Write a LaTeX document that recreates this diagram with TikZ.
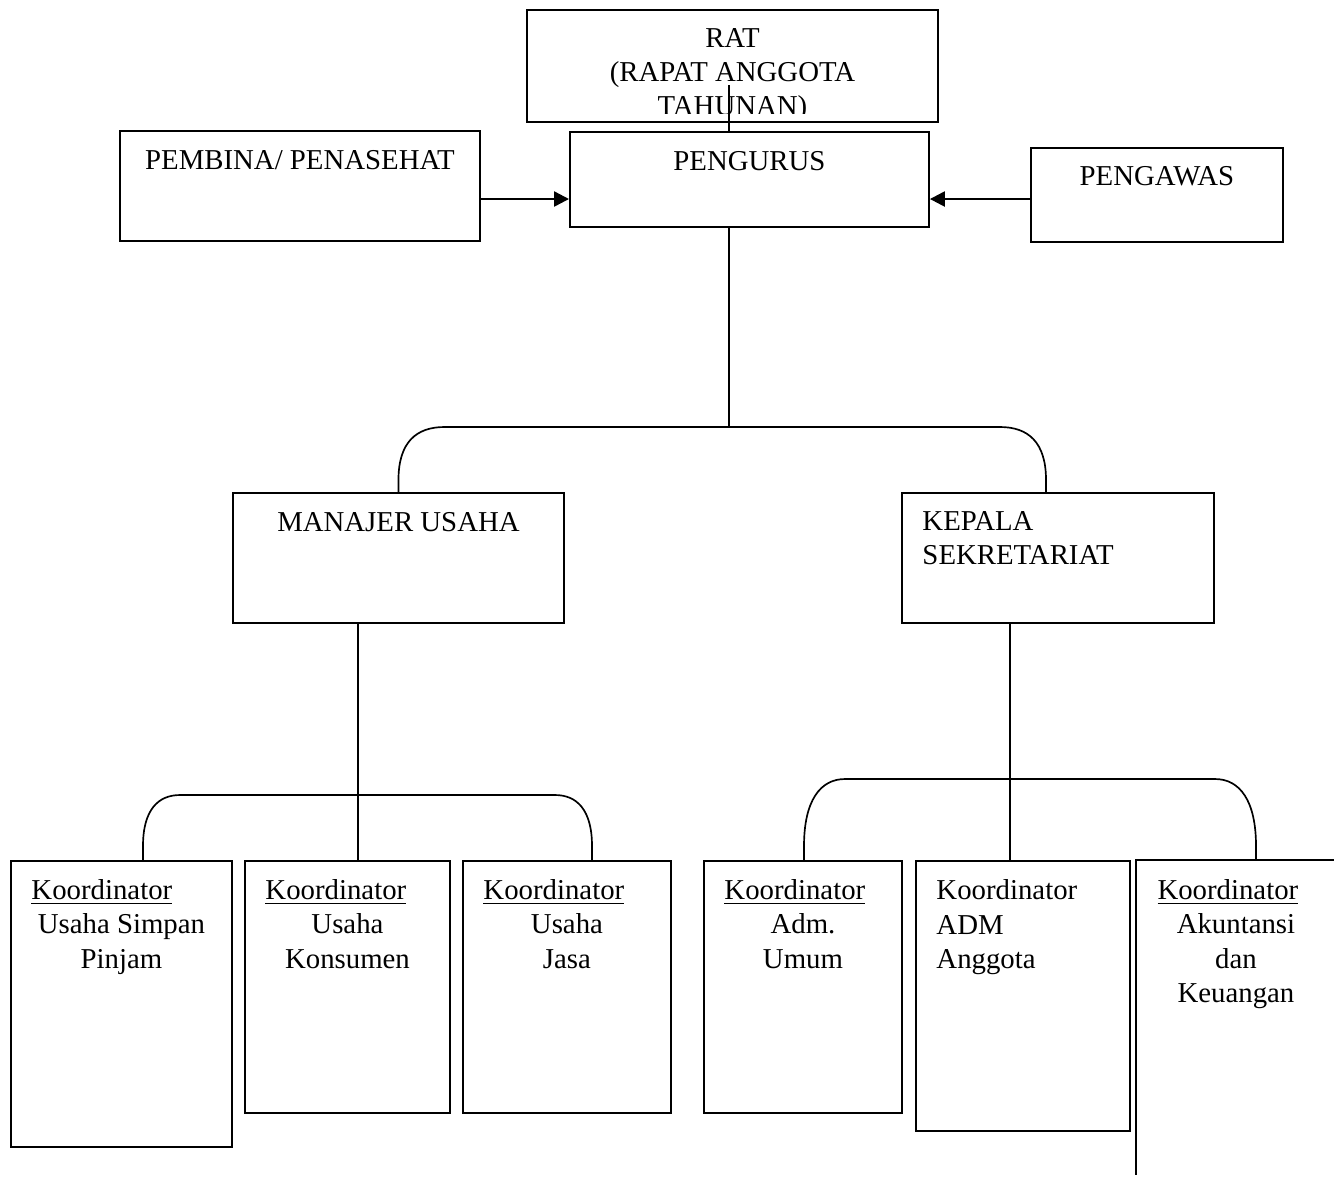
\documentclass[tikz,border=0pt]{standalone}
\usepackage{fontspec}
\setmainfont{Liberation Serif}
\usetikzlibrary{arrows.meta, positioning}
\newcommand{\pxu}{0.4167pt}

\begin{document}
\begin{tikzpicture}[x=\pxu, y=\pxu,
    every node/.style={font=\fontsize{12pt}{14.2pt}\selectfont},
    box/.style 2 args={draw, line width=0.8pt, inner sep=0pt, anchor=north west,
      minimum width=#1*\pxu, minimum height=#2*\pxu},
    ttl/.style={anchor=north, inner sep=0pt, align=center},
    ttlleft/.style={anchor=north west, inner sep=0pt, align=left},
    stem/.style={line width=0.45pt},
    brace/.style={line width=0.7pt},
    arr/.style={line width=1pt, -{Triangle[length=6.2pt, width=6.2pt]}}]
  \useasboundingbox (0,0) rectangle (1334,-1177);

  % top level
  \node[box={411}{112}] (rat) at (526,-9) {};
  \node[box={359}{95}] (pengurus) at (569,-131) {};
  \node[box={360}{110}] (pembina) at (119,-130) {};
  \node[box={252}{94}] (pengawas) at (1030,-147) {};
  % second level
  \node[box={331}{130}] (manajer) at (232,-492) {};
  \node[box={312}{130}] (kepala) at (901,-492) {};
  % koordinator boxes
  \node[box={221}{286}] (k1) at (10,-860) {};
  \node[box={205}{252}] (k2) at (244,-860) {};
  \node[box={208}{252}] (k3) at (462,-860) {};
  \node[box={198}{252}] (k4) at (703,-860) {};
  \node[box={214}{270}] (k5) at (915,-860) {};
  \node[box={198}{313}, draw=none] (k6) at (1136,-860) {};
  \draw[line width=0.8pt] (k6.north east) -- (k6.north west) -- (k6.south west);

  % texts
  \begin{scope}
    \clip (rat.north west) rectangle ([yshift=9*\pxu]rat.south east);
    \node[ttl] (rat-t) at ([yshift=-18.5*\pxu]rat.north) {RAT\\(RAPAT ANGGOTA\\TAHUNAN)};
  \end{scope}
  \node[ttl] (pengurus-t) at ([yshift=-19.5*\pxu]pengurus.north) {PENGURUS};
  \node[ttl] (pembina-t) at ([yshift=-19.5*\pxu]pembina.north) {PEMBINA/ PENASEHAT};
  \node[ttl] (pengawas-t) at ([yshift=-18.5*\pxu]pengawas.north) {PENGAWAS};
  \node[ttl] (manajer-t) at ([yshift=-20*\pxu]manajer.north) {MANAJER USAHA};
  \node[ttlleft] (kepala-t) at ([xshift=21*\pxu,yshift=-19*\pxu]kepala.north west) {KEPALA\\SEKRETARIAT};
  \foreach \k/\sub in {k1/{Usaha Simpan\\Pinjam}, k2/{Usaha\\Konsumen}, k3/{Usaha\\Jasa},
                       k4/{Adm.\\Umum}, k6/{Akuntansi\\dan\\Keuangan}}{
    \node[ttlleft] (\k-t) at ([xshift=21*\pxu,yshift=-19.5*\pxu]\k.north west) {\underline{Koordinator}};
    \node[ttl] (\k-s) at ([yshift=-53.5*\pxu]\k.north) {\sub};
  }
  \node[ttlleft] (k5-t) at ([xshift=21*\pxu,yshift=-19.5*\pxu]k5.north west) {Koordinator\\ADM\\Anggota};

  % connectors
  \coordinate (ratfoot) at (729,-85);
  \draw[stem] (ratfoot) -- (ratfoot |- pengurus.north);
  \coordinate (ay) at (0,-199);
  \draw[arr] (pembina.east |- ay) -- (pengurus.west |- ay);
  \draw[arr] (pengawas.west |- ay) -- (pengurus.east |- ay);

  \coordinate (hub1) at (729,-427);
  \coordinate (kleg) at (1046,-492);
  \draw[stem] (hub1 |- pengurus.south) -- (hub1);
  \draw[brace] (manajer.north) -- ++(0,12) .. controls +(0,38) and +(-28,0) .. ++(46,53) -- (hub1);
  \draw[brace] (kleg) -- ++(0,12) .. controls +(0,38) and +(28,0) .. ++(-46,53) -- (hub1);

  \coordinate (hub2) at (358,-795);
  \coordinate (leg1) at (143,-860);
  \coordinate (leg3) at (592,-860);
  \draw[stem] (hub2 |- manajer.south) -- (hub2 |- k2.north);
  \draw[brace] (leg1) -- ++(0,14) .. controls +(0,36) and +(-22,0) .. ++(37,51) -- (hub2);
  \draw[brace] (leg3) -- ++(0,14) .. controls +(0,36) and +(22,0) .. ++(-37,51) -- (hub2);

  \coordinate (hub3) at (1010,-779);
  \coordinate (leg4) at (804,-860);
  \coordinate (leg6) at (1256,-860);
  \draw[stem] (hub3 |- kepala.south) -- (hub3 |- k5.north);
  \draw[brace] (leg4) -- ++(0,14) .. controls +(0,45) and +(-25,0) .. ++(41,67) -- (hub3);
  \draw[brace] (leg6) -- ++(0,14) .. controls +(0,45) and +(25,0) .. ++(-41,67) -- (hub3);
\end{tikzpicture}
\end{document}
